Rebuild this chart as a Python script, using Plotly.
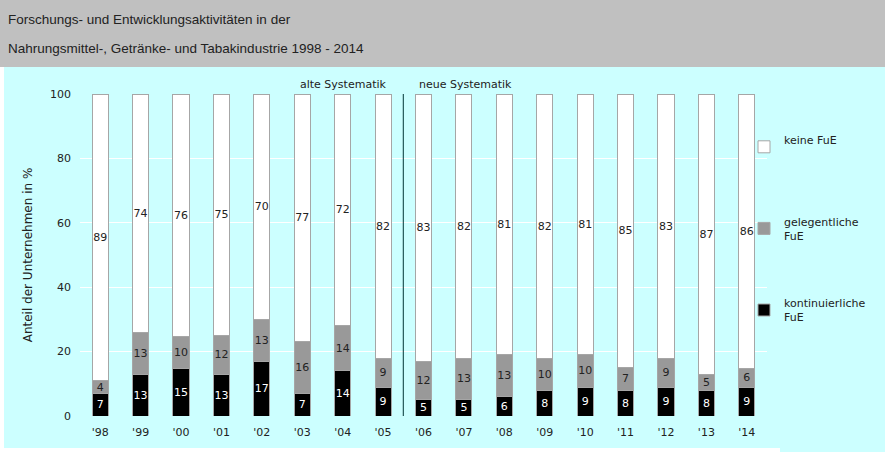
import plotly.graph_objects as go

years = ["'98", "'99", "'00", "'01", "'02", "'03", "'04", "'05", "'06",
         "'07", "'08", "'09", "'10", "'11", "'12", "'13", "'14"]
kontinuierlich = [7, 13, 15, 13, 17, 7, 14, 9, 5, 5, 6, 8, 9, 8, 9, 8, 9]
gelegentlich = [4, 13, 10, 12, 13, 16, 14, 9, 12, 13, 13, 10, 10, 7, 9, 5, 6]
keine = [89, 74, 76, 75, 70, 77, 72, 82, 83, 82, 81, 82, 81, 85, 83, 87, 86]

title_lines = ["Forschungs- und Entwicklungsaktivitäten in der",
               "Nahrungsmittel-, Getränke- und Tabakindustrie 1998 - 2014"]
y_title = "Anteil der Unternehmen in %"

FONT = "DejaVu Sans"
W, H = 885, 452
L, R, T, B = 80, 118, 94, 36
pw, ph = W - L - R, H - T - B


def px(x):
    return (x - L) / pw


def py(y):
    return (H - B - y) / ph


CYAN = "#ccffff"
OUTLINE = "#a6a6a6"

fig = go.Figure()
series = [
    ("kontinuierliche<br>FuE", kontinuierlich, "#000000", "#ffffff", 3),
    ("gelegentliche<br>FuE", gelegentlich, "#999999", "#222222", 2),
    ("keine FuE<br> ", keine, "#ffffff", "#222222", 1),
]
for i, (name, vals, col, tcol, rank) in enumerate(series):
    fig.add_trace(go.Bar(
        x=years, y=vals, name=name, text=[str(v) for v in vals],
        textposition="inside", insidetextanchor="middle", textangle=0,
        textfont=dict(family=FONT, size=11, color=tcol),
        marker=dict(color=col, line=dict(color=OUTLINE, width=1)),
        width=0.4, legendgroup=str(i), legendrank=rank, hoverinfo="skip",
    ))

fig.update_layout(
    width=W, height=H, barmode="stack", barnorm="percent",
    margin=dict(l=L, r=R, t=T, b=B, autoexpand=False),
    paper_bgcolor=CYAN, plot_bgcolor=CYAN,
    font=dict(family=FONT, size=11, color="#222222"),
    uniformtext=dict(minsize=11, mode="show"),
    showlegend=True,
    legend=dict(x=px(744), xanchor="left", y=py(126), yanchor="top",
                traceorder="grouped", tracegroupgap=50,
                font=dict(family=FONT, size=11, color="#222222"),
                bgcolor="rgba(0,0,0,0)", itemwidth=30),
    xaxis=dict(showgrid=False, showline=False, zeroline=False,
               ticks="", ticklabelstandoff=8,
               tickfont=dict(family=FONT, size=11)),
    yaxis=dict(range=[0, 100], tickvals=[0, 20, 40, 60, 80, 100],
               showgrid=True, gridcolor="#ffffff", gridwidth=1,
               zeroline=False, showline=False, ticks="",
               ticklabelstandoff=8,
               tickfont=dict(family=FONT, size=11),
               title=dict(text=y_title, standoff=14,
                          font=dict(family=FONT, size=12))),
)

# header band and frame
fig.add_shape(type="rect", xref="paper", yref="paper", layer="below",
              x0=px(0), x1=px(W), y0=py(67), y1=py(0),
              fillcolor="#c0c0c0", line=dict(width=0))
fig.add_shape(type="rect", xref="paper", yref="paper", layer="below",
              x0=px(0), x1=px(4), y0=py(H), y1=py(67),
              fillcolor="#ffffff", line=dict(width=0))
fig.add_shape(type="rect", xref="paper", yref="paper", layer="below",
              x0=px(0), x1=px(780), y0=py(H), y1=py(448),
              fillcolor="#ffffff", line=dict(width=0))

# divider between old and new classification
fig.add_shape(type="line", xref="x", yref="y", x0=7.5, x1=7.5, y0=0, y1=100,
              line=dict(color="#003333", width=1))

fig.add_annotation(x=7.15, xref="x", xanchor="right", y=1, yref="paper",
                   yanchor="bottom", yshift=1, showarrow=False,
                   text="alte Systematik", font=dict(family=FONT, size=11))
fig.add_annotation(x=7.84, xref="x", xanchor="left", y=1, yref="paper",
                   yanchor="bottom", yshift=1, showarrow=False,
                   text="neue Systematik", font=dict(family=FONT, size=11))

for k, line in enumerate(title_lines):
    fig.add_annotation(x=px(6), xref="paper", xanchor="left",
                       y=py(20 + 28 * k), yref="paper", yanchor="middle",
                       showarrow=False, text=line,
                       font=dict(family="Liberation Sans, Arial",
                                 size=13.5, color="#222222"))

fig.write_html("out.html",
               config={"displayModeBar": False},
               post_script="document.body.style.margin='0';")
